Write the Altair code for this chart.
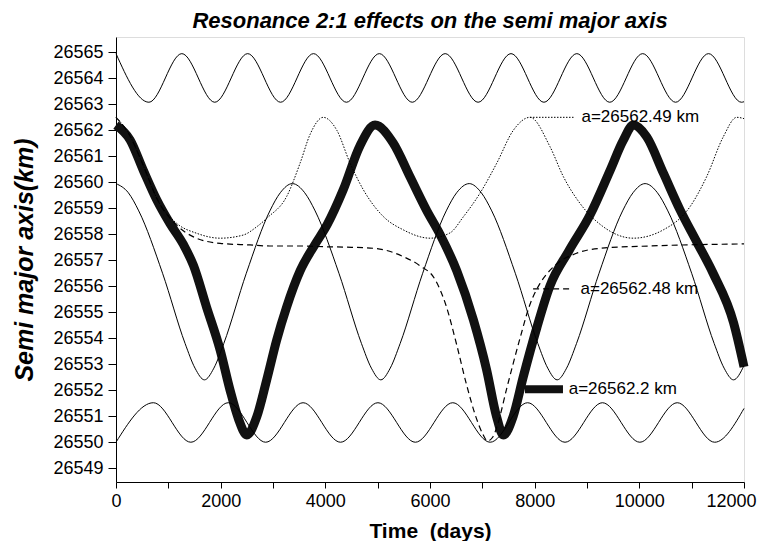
import altair as alt
import pandas as pd

# ---- data (time in days, semi major axis in km) ----
top_t = [0, 629, 1258, 1887, 2516, 3145, 3774, 4403, 5032, 5661, 6290, 6919,
         7548, 8177, 8806, 9435, 10064, 10693, 11322, 11951, 12000]
top_a = [26564.95, 26563.08, 26564.95, 26563.08, 26564.95, 26563.08, 26564.95,
         26563.08, 26564.95, 26563.08, 26564.95, 26563.08, 26564.95, 26563.08,
         26564.95, 26563.08, 26564.95, 26563.08, 26564.95, 26563.08, 26563.1]

bot_t = [0, 715, 1430, 2145, 2860, 3575, 4290, 5005, 5720, 6435, 7150, 7865,
         8580, 9295, 10010, 10725, 11440, 12000]
bot_a = [26550.0, 26551.52, 26550.0, 26551.52, 26550.0, 26551.52, 26550.0,
         26551.52, 26550.0, 26551.52, 26550.0, 26551.52, 26550.0, 26551.52,
         26550.0, 26551.52, 26550.0, 26551.3]

big_t = [0, 235, 435, 890, 1320, 1510, 1690, 1870, 2060, 2490, 2940, 3140,
         3370, 3605, 3805, 4260, 4690, 4880, 5060, 5240, 5430, 5860, 6310,
         6510, 6750, 6980, 7180, 7630, 8060, 8250, 8430, 8610, 8800, 9230,
         9680, 9880, 10110, 10345, 10545, 11000, 11430, 11620, 11800, 12000]
big_a = [26559.95, 26559.6, 26558.9, 26556.5, 26553.8, 26552.85, 26552.4,
         26552.85, 26553.8, 26556.5, 26558.9, 26559.6, 26559.95, 26559.6,
         26558.9, 26556.5, 26553.8, 26552.85, 26552.4, 26552.85, 26553.8,
         26556.5, 26558.9, 26559.6, 26559.95, 26559.6, 26558.9, 26556.5,
         26553.8, 26552.85, 26552.4, 26552.85, 26553.8, 26556.5, 26558.9,
         26559.6, 26559.95, 26559.6, 26558.9, 26556.5, 26553.8, 26552.85,
         26552.4, 26552.95]

dot_t = [0, 250, 500, 800, 1160, 1540, 1990, 2430, 2690, 2900, 3260, 3520,
         3710, 3960, 4220, 4470, 4730, 5110, 5490, 6000, 6380, 6640, 6955,
         7274, 7592, 7911, 8293, 8548, 8866, 9311, 9885, 10458, 10968, 11287,
         11604, 11860, 12000]
dot_a = [26562.5, 26561.85, 26560.75, 26559.3, 26558.42, 26558.04, 26557.85,
         26557.97, 26558.29, 26558.65, 26559.45, 26560.75, 26561.85, 26562.5,
         26562.0, 26560.75, 26559.7, 26558.68, 26558.17, 26557.85, 26558.05,
         26558.68, 26559.58, 26560.73, 26562.0, 26562.5, 26561.37, 26560.22,
         26559.19, 26558.29, 26557.85, 26558.17, 26559.06, 26560.22, 26561.75,
         26562.5, 26562.45]

dash_t = [0, 250, 500, 800, 1160, 1480, 1990, 2560, 2940, 3500, 4000, 4500,
          4980, 5490, 5800, 6100, 6300, 6510, 6700, 6890, 7000, 7100, 7200,
          7280, 7470, 7720, 7910, 8100, 8360, 8800, 9250, 10200, 12000]
dash_a = [26562.5, 26561.85, 26560.75, 26559.3, 26558.35, 26557.9, 26557.65,
          26557.59, 26557.55, 26557.55, 26557.52, 26557.5, 26557.45, 26557.14,
          26556.8, 26556.25, 26555.3, 26553.75, 26552.2, 26550.9, 26550.35,
          26550.05, 26550.2, 26550.6, 26552.1, 26554.0, 26555.3, 26556.1,
          26556.75, 26557.27, 26557.46, 26557.55, 26557.63]

thick_t = [0, 270, 520, 780, 1030, 1290, 1480, 1730, 1990, 2180, 2340, 2500,
           2690, 2880, 3070, 3260, 3520, 3800, 4030, 4340, 4660, 4950, 5300,
           5620, 5940, 6190, 6510, 6830, 7080, 7270, 7400, 7590, 7780, 8040,
           8290, 8650, 9060, 9440, 9690, 9885, 10140, 10460, 10780, 11100,
           11410, 11800, 12000]
thick_a = [26562.2, 26561.63, 26560.47, 26559.32, 26558.42, 26557.6, 26556.8,
           26555.2, 26553.55, 26552.0, 26550.9, 26550.28, 26550.98, 26552.4,
           26553.93, 26555.2, 26556.6, 26557.6, 26558.35, 26559.7, 26561.4,
           26562.2, 26561.5, 26560.2, 26558.9, 26558.0, 26556.6, 26554.7,
           26552.8, 26551.0, 26550.28, 26551.0, 26552.5, 26554.4, 26556.0,
           26557.35, 26558.75, 26560.45, 26561.6, 26562.2, 26561.75, 26560.35,
           26558.93, 26557.7, 26556.5, 26554.6, 26552.9]

# annotation labels (text, leader start/end time, level, text start time)
ann_text = ["a=26562.49 km", "a=26562.48 km", "a=26562.2 km"]
ann_t0 = [7911, 7970, 7815]
ann_t1 = [8771, 8730, 8541]
ann_a = [26562.5, 26555.9, 26552.04]
ann_tx = [8894, 8876, 8650]

x_ticks = [i * 1000 for i in range(13)]
y_ticks = [26549 + 0.5 * i for i in range(34)]

FONT = "Liberation Sans"

x_axis = alt.Axis(values=x_ticks, format="d",
                  labelExpr="datum.value % 2000 == 0 ? datum.label : ''",
                  labelOffset={"condition": {"test": "datum.value == 12000", "value": -13}, "value": 0},
                  tickSize=6, tickColor="black", domainColor="black",
                  labelFont=FONT, labelFontSize=18, labelColor="black",
                  labelPadding=4, labelFlush=False, labelOverlap=False,
                  grid=False,
                  title="Time\u00a0 (days)", titleFont=FONT, titleFontSize=21,
                  titleFontWeight="bold", titleColor="black",
                  titleX=314, titleY=55, titleAlign="center",
                  titleBaseline="alphabetic")
y_axis = alt.Axis(values=y_ticks, format="d",
                  labelExpr="datum.value % 1 == 0 ? datum.label : ''",
                  tickSize={"condition": {"test": "datum.value % 1 == 0", "value": 8}, "value": 4},
                  tickColor="black", domainColor="black",
                  labelFont=FONT, labelFontSize=18, labelColor="black",
                  labelPadding=5, labelFlush=False, labelOverlap=False,
                  grid=False,
                  title="Semi major axis(km)", titleFont=FONT, titleFontSize=25,
                  titleFontWeight="bold", titleFontStyle="italic",
                  titleColor="black", titleAngle=270, titleX=-92, titleY=222.5,
                  titleAlign="center", titleBaseline="middle")

xs = alt.Scale(domain=[0, 12000], nice=False, zero=False)
ys = alt.Scale(domain=[26548.47, 26565.59], nice=False, zero=False)

X = alt.X("t:Q", scale=xs, axis=x_axis)
Y = alt.Y("a:Q", scale=ys, axis=y_axis)


def df(t, a):
    return pd.DataFrame({"t": t, "a": a})


def line(t, a, color="black", **kw):
    return alt.Chart(df(t, a)).mark_line(color=color, interpolate="monotone", **kw).encode(x=X, y=Y, order="t:Q")


thick = line(thick_t, thick_a, color="#111111", strokeWidth=9, strokeCap="butt", strokeJoin="round")
top = line(top_t, top_a, strokeWidth=1)
bot = line(bot_t, bot_a, strokeWidth=1)
big = line(big_t, big_a, strokeWidth=1)
dot = line(dot_t, dot_a, strokeWidth=1, strokeDash=[1.5, 1.5])
dash = line(dash_t, dash_a, strokeWidth=1.2, strokeDash=[6, 4])

ann = pd.DataFrame({"text": ann_text, "t0": ann_t0, "t1": ann_t1, "a": ann_a, "tx": ann_tx})

lead_dot = alt.Chart(ann.iloc[[0]]).mark_rule(color="black", strokeWidth=1, strokeDash=[1.5, 1.5]).encode(
    x=X, x2="t1:Q", y=Y).transform_calculate(t="datum.t0")
lead_dash = alt.Chart(ann.iloc[[1]]).mark_rule(color="black", strokeWidth=1.2, strokeDash=[6, 4]).encode(
    x=X, x2="t1:Q", y=Y).transform_calculate(t="datum.t0")
lead_thick = alt.Chart(ann.iloc[[2]]).mark_rule(color="#111111", strokeWidth=8).encode(
    x=X, x2="t1:Q", y=Y).transform_calculate(t="datum.t0")

labels = alt.Chart(ann).mark_text(align="left", baseline="middle", font=FONT,
                                  fontSize=17, color="black").encode(
    x=X, y=Y, text="text:N").transform_calculate(t="datum.tx")

chart = alt.layer(thick, top, bot, big, dot, dash, lead_dot, lead_dash, lead_thick, labels).properties(
    width=628, height=445,
    autosize=alt.AutoSizeParams(type="none"),
    padding={"left": 108, "top": 29, "right": 16, "bottom": 59},
    title=alt.TitleParams("Resonance 2:1 effects on the semi major axis", font=FONT,
                          fontSize=22, fontStyle="italic", fontWeight="bold",
                          color="black", offset=4, anchor="middle"),
).configure_view(stroke="black", strokeWidth=1).configure(background="white")

chart.save("out.html", embed_options={"renderer": "svg", "actions": False})
